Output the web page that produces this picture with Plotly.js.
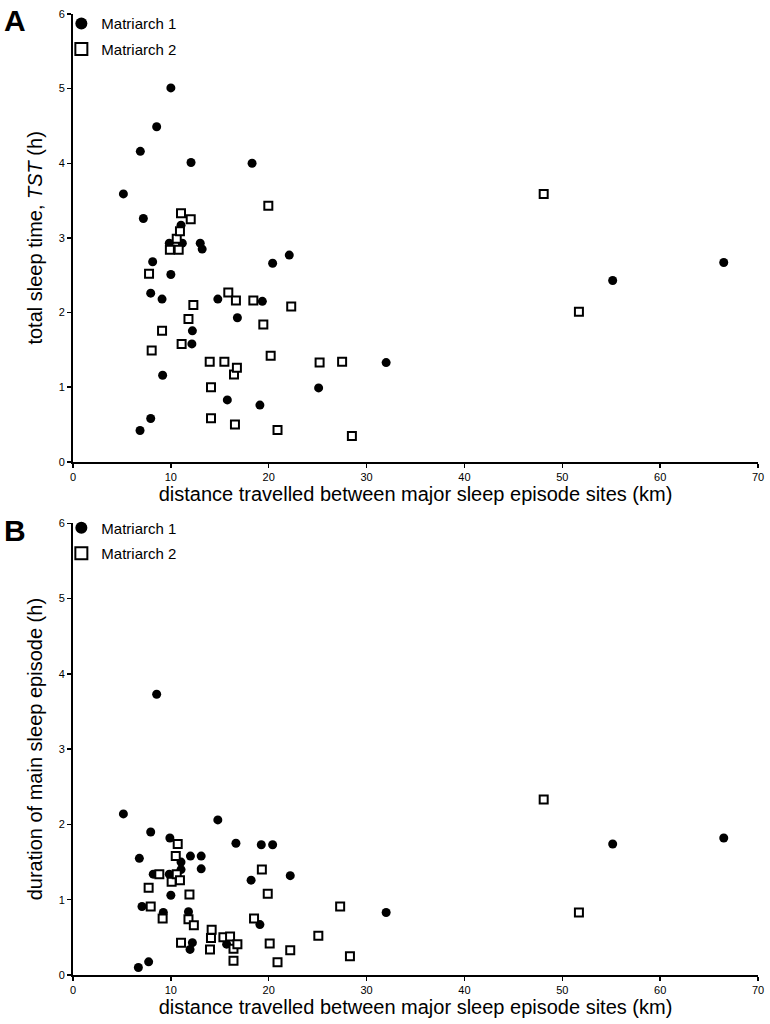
<!DOCTYPE html>
<html>
<head>
<meta charset="utf-8">
<script src="https://cdn.plot.ly/plotly-3.0.1.min.js"></script>
<style>html,body{margin:0;padding:0;background:#fff;}#chart{width:770px;height:1024px;}</style>
</head>
<body>
<div id="chart"></div>
<script>
// Panel A: total sleep time vs distance
const seriesNames = ["Matriarch 1", "Matriarch 2"];
const distA1 = [5.15, 6.85, 6.88, 7.19, 7.94, 7.94, 8.14, 8.55, 9.1, 9.16, 9.84, 10.0, 10.0, 11.04, 11.17, 12.06, 12.15, 12.2, 13.0, 13.2, 14.8, 15.77, 16.8, 18.3, 19.1, 19.35, 20.4, 22.1, 25.1, 32.0, 55.15, 66.5];
const tstA1  = [3.59, 0.42, 4.16, 3.26, 2.26, 0.58, 2.68, 4.49, 2.18, 1.16, 2.93, 2.51, 5.01, 3.17, 2.93, 4.01, 1.58, 1.755, 2.93, 2.85, 2.18, 0.83, 1.93, 4.0, 0.76, 2.15, 2.66, 2.77, 0.99, 1.33, 2.43, 2.67];
const distA2 = [7.77, 8.04, 9.1, 9.9, 10.6, 10.8, 10.93, 11.04, 11.1, 11.8, 12.03, 12.3, 13.97, 14.1, 14.1, 15.47, 15.87, 16.45, 16.55, 16.65, 16.75, 18.43, 19.45, 19.96, 20.2, 20.9, 22.3, 25.2, 27.5, 28.5, 48.1, 51.7];
const tstA2  = [2.52, 1.49, 1.755, 2.84, 2.99, 2.84, 3.09, 3.33, 1.58, 1.915, 3.25, 2.10, 1.34, 1.00, 0.585, 1.34, 2.27, 1.17, 0.50, 2.16, 1.26, 2.16, 1.84, 3.43, 1.42, 0.425, 2.08, 1.33, 1.34, 0.346, 3.59, 2.01];
// Panel B: duration of main sleep episode vs distance
const distB1 = [5.15, 6.68, 6.78, 7.05, 7.73, 7.94, 8.2, 8.55, 9.23, 9.84, 9.9, 10.0, 11.04, 11.04, 11.8, 11.96, 12.0, 12.2, 13.1, 13.1, 14.8, 15.7, 16.65, 18.2, 19.1, 19.24, 20.4, 22.2, 32.0, 55.15, 66.5];
const mainB1 = [2.14, 0.10, 1.55, 0.91, 0.175, 1.90, 1.34, 3.73, 0.83, 1.34, 1.82, 1.06, 1.50, 1.40, 0.84, 0.34, 1.58, 0.43, 1.58, 1.41, 2.06, 0.41, 1.75, 1.26, 0.67, 1.73, 1.73, 1.32, 0.83, 1.74, 1.82];
const distB2 = [7.73, 7.94, 8.82, 9.16, 10.08, 10.5, 10.6, 10.7, 10.93, 11.04, 11.8, 11.9, 12.35, 14.0, 14.1, 14.17, 15.37, 16.05, 16.4, 16.4, 16.8, 18.5, 19.3, 19.9, 20.1, 20.9, 22.2, 25.07, 27.3, 28.3, 48.1, 51.7];
const mainB2 = [1.16, 0.91, 1.34, 0.75, 1.24, 1.58, 1.34, 1.74, 1.26, 0.43, 0.74, 1.07, 0.66, 0.34, 0.49, 0.60, 0.50, 0.51, 0.35, 0.19, 0.41, 0.75, 1.40, 1.08, 0.42, 0.17, 0.33, 0.52, 0.91, 0.25, 2.33, 0.83];
const xTicks = [0, 10, 20, 30, 40, 50, 60, 70];
const yTicks = [0, 1, 2, 3, 4, 5, 6];

const FONT = "Liberation Sans, Arial, Helvetica, sans-serif";
const circle = {symbol: "circle", size: 9, color: "#000", line: {width: 0}};
const square = {symbol: "square", size: 8, color: "#fff", line: {width: 2, color: "#000"}};

const traces = [
  {x: distA1, y: tstA1, type: "scatter", mode: "markers", name: seriesNames[0], marker: circle, xaxis: "x", yaxis: "y", legend: "legend", legendgroup: "a1"},
  {x: distA2, y: tstA2, type: "scatter", mode: "markers", name: seriesNames[1], marker: square, xaxis: "x", yaxis: "y", legend: "legend", legendgroup: "a2"},
  {x: distB1, y: mainB1, type: "scatter", mode: "markers", name: seriesNames[0], marker: circle, xaxis: "x2", yaxis: "y2", legend: "legend2", legendgroup: "b1"},
  {x: distB2, y: mainB2, type: "scatter", mode: "markers", name: seriesNames[1], marker: square, xaxis: "x2", yaxis: "y2", legend: "legend2", legendgroup: "b2"}
];

function xAxis(anchor) {
  return {
    anchor: anchor, domain: [0, 1], range: [0, 70], tickvals: xTicks, ticktext: xTicks.map(String),
    showline: true, linewidth: 2, linecolor: "#000", ticks: "outside", ticklen: 4, tickwidth: 1.5, tickcolor: "#000",
    showgrid: false, zeroline: false, tickfont: {family: FONT, size: 11, color: "#000"},
    title: {text: "distance travelled between major sleep episode sites (km)", font: {family: FONT, size: 20, color: "#000"}, standoff: 4}
  };
}
function yAxis(anchor, domain, title) {
  return {
    anchor: anchor, domain: domain, range: [0, 6], tickvals: yTicks, ticktext: yTicks.map(String),
    showline: true, linewidth: 2, linecolor: "#000", ticks: "outside", ticklen: 4, tickwidth: 1.5, tickcolor: "#000",
    showgrid: false, zeroline: false, tickfont: {family: FONT, size: 11, color: "#000"},
    title: {text: title, font: {family: FONT, size: 20, color: "#000"}, standoff: 11}
  };
}
const legendBase = {
  xref: "paper", yref: "paper", xanchor: "left", yanchor: "top", bgcolor: "rgba(0,0,0,0)",
  font: {family: FONT, size: 15, color: "#000"}, itemsizing: "constant", traceorder: "grouped", tracegroupgap: 3
};

const layout = {
  width: 770, height: 1024,
  margin: {l: 73, r: 12, t: 7, b: 49},
  paper_bgcolor: "#fff", plot_bgcolor: "#fff",
  showlegend: true,
  xaxis: xAxis("y"),
  yaxis: yAxis("x", [0.534, 1], "total sleep time, <i>TST</i> (h)"),
  xaxis2: xAxis("y2"),
  yaxis2: yAxis("x2", [0, 0.470], "duration of main sleep episode (h)"),
  legend: Object.assign({}, legendBase, {x: -0.017, y: 1.007}),
  legend2: Object.assign({}, legendBase, {x: -0.017, y: 0.4824}),
  annotations: [
    {text: "<b>A</b>", xref: "paper", yref: "paper", x: -0.104, y: 1.012, xanchor: "left", yanchor: "top", showarrow: false, font: {family: FONT, size: 30, color: "#000"}},
    {text: "<b>B</b>", xref: "paper", yref: "paper", x: -0.104, y: 0.482, xanchor: "left", yanchor: "top", showarrow: false, font: {family: FONT, size: 30, color: "#000"}}
  ]
};

Plotly.newPlot("chart", traces, layout, {staticPlot: true, displayModeBar: false});
</script>
</body>
</html>
